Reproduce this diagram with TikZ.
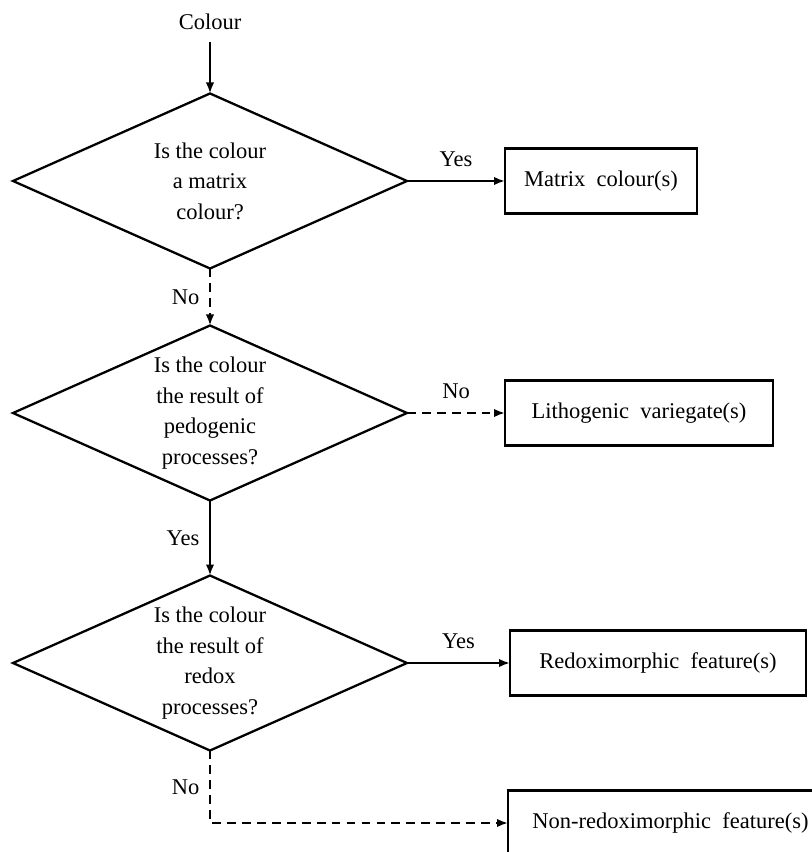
\documentclass[tikz,border=0pt]{standalone}
\usepackage{fontspec}
\setmainfont{Liberation Serif}
\usetikzlibrary{shapes.geometric,arrows.meta}

\begin{document}
\begin{tikzpicture}[inner sep=0pt,outer sep=0pt,line width=1.3pt,>={Latex[length=2.2mm,width=1.7mm]},
font=\fontsize{12.8}{17.4}\selectfont,
decision/.style={draw,diamond,shape aspect=2.25,minimum width=7.88cm,minimum height=3.5cm,align=center,line width=1.3pt},
outbox/.style={draw,rectangle,anchor=west,minimum height=1.3cm,line width=1.3pt},
dashline/.style={dashed,dash pattern=on 5pt off 3.5pt}]

\useasboundingbox (0,0) rectangle (16.22,-17.04);

\draw (4.2,-0.44) node[inner ysep=7pt] (colour) {Colour};
\draw (4.2,-3.62) node[decision] (q1) {Is the colour\\a matrix\\colour?};
\draw (4.2,-8.26) node[decision] (q2) {Is the colour\\the result of\\pedogenic\\processes?};
\draw (4.2,-13.26) node[decision] (q3) {Is the colour\\the result of\\redox\\processes?};
\draw (10.1,-3.62) node[outbox,minimum width=3.84cm] (matrix) {Matrix\ \ colour(s)};
\draw (10.1,-8.26) node[outbox,minimum width=5.36cm] (litho) {Lithogenic\ \ variegate(s)};
\draw (10.2,-13.26) node[outbox,minimum width=5.92cm] (redox) {Redoximorphic\ \ feature(s)};
\draw (10.16,-16.46) node[outbox,minimum width=6.5cm] (nonredox) {Non-redoximorphic\ \ feature(s)};

\draw[->] (colour.-90) -- (q1.90);
\draw[->] (q1.0) -- (matrix.180) node[midway,above=8pt] {Yes};
\draw[->,dashline] (q1.-90) -- (q2.90) node[midway,left=6pt] {No};
\draw[->,dashline] (q2.0) -- (litho.180) node[midway,above=8pt] {No};
\draw[->] (q2.-90) -- (q3.90) node[midway,left=6pt] {Yes};
\draw[->] (q3.0) -- (redox.180) node[midway,above=8pt] {Yes};
\draw[->,dashline] (q3.-90) |- (nonredox.180) node[pos=0.25,left=6pt] {No};
\end{tikzpicture}
\end{document}
